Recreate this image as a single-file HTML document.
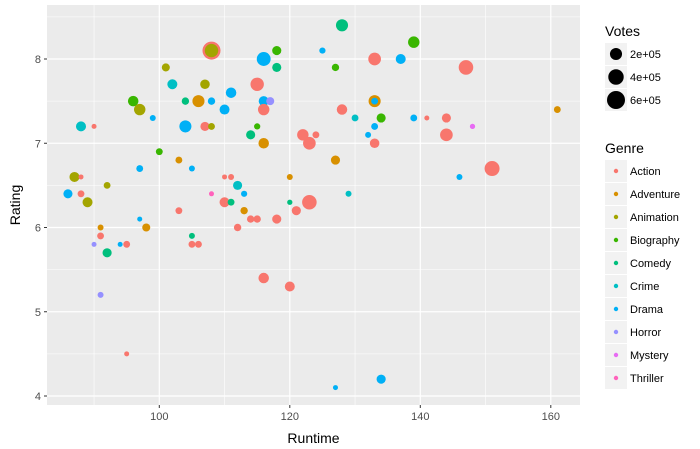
<!DOCTYPE html>
<html><head><meta charset="utf-8"><style>
html,body{margin:0;padding:0;background:#fff;}
svg{display:block;font-family:"Liberation Sans",Arial,sans-serif;}
</style></head><body>
<svg id="chart" width="700" height="449" viewBox="0 0 700 449" xmlns="http://www.w3.org/2000/svg"></svg>
<script>
const genreNames = ["Action","Adventure","Animation","Biography","Comedy","Crime","Drama","Horror","Mystery","Thriller"];
const genreColors = ["#F8766D","#D89000","#A3A500","#39B600","#00BF7D","#00BFC4","#00B0F6","#9590FF","#E76BF3","#FF62BC"];
const runtimes = [108,108,118,116,118,101,102,107,115,111,96,97,104,106,108,110,116,117,116,99,88,90,104,107,108,115,114,122,124,116,123,100,103,97,105,87,88,110,111,120,92,112,86,88,113,108,89,110,111,120,123,103,113,121,97,98,91,91,90,94,95,92,105,105,106,112,114,115,118,116,120,91,95,128,125,139,133,137,127,147,133,133,128,130,134,139,141,144,161,133,148,132,144,133,127,151,146,129,127,134];
const ratings = [8.1,8.1,8.1,8.0,7.9,7.9,7.7,7.7,7.7,7.6,7.5,7.4,7.5,7.5,7.5,7.4,7.5,7.5,7.4,7.3,7.2,7.2,7.2,7.2,7.2,7.2,7.1,7.1,7.1,7.0,7.0,6.9,6.8,6.7,6.7,6.6,6.6,6.6,6.6,6.6,6.5,6.5,6.4,6.4,6.4,6.4,6.3,6.3,6.3,6.3,6.3,6.2,6.2,6.2,6.1,6.0,6.0,5.9,5.8,5.8,5.8,5.7,5.9,5.8,5.8,6.0,6.1,6.1,6.1,5.4,5.3,5.2,4.5,8.4,8.1,8.2,8.0,8.0,7.9,7.9,7.5,7.5,7.4,7.3,7.3,7.3,7.3,7.3,7.4,7.2,7.2,7.1,7.1,7.0,6.8,6.7,6.6,6.4,4.1,4.2];
const votes = [600,270,80,300,80,50,110,95,270,130,130,170,35,200,35,110,110,50,170,12,110,3,200,80,25,15,80,170,25,130,230,25,25,25,12,110,3,3,12,12,25,80,80,25,15,3,110,110,25,5,340,25,35,80,3,50,12,25,3,3,25,80,12,25,25,35,35,35,80,130,110,12,3,200,15,170,230,110,35,340,200,25,130,25,80,25,3,80,25,25,5,12,230,95,80,370,12,12,3,80];
const genres = [0,2,3,6,4,2,5,2,0,6,3,2,4,1,6,6,6,7,0,6,5,0,6,0,2,3,4,0,0,1,0,3,1,6,6,2,0,0,0,1,2,5,6,0,6,9,2,0,4,4,0,0,1,0,6,1,1,0,7,6,0,4,4,0,0,0,0,0,0,0,0,7,0,4,6,3,0,6,3,0,1,6,0,5,3,6,0,0,1,6,8,6,0,0,1,0,6,5,6,6];
const xTicks = [100,120,140,160];
const yTicks = [4,5,6,7,8];
const sizeBreaks = [200,400,600];
const sizeLabels = ["2e+05","4e+05","6e+05"];

const NS="http://www.w3.org/2000/svg";
const svg=document.getElementById('chart');
const PL=47,PR=580,PT=5,PB=405;
function xs(v){return 159.3+(v-100)*6.525;}
function ys(v){return 59+(8-v)*84.25;}
function rs(v){return 2+7*Math.sqrt(v/600);}
function mk(tag,attrs,parent){const e=document.createElementNS(NS,tag);for(const k in attrs)e.setAttribute(k,attrs[k]);(parent||svg).appendChild(e);return e;}

const panel=mk('rect',{x:PL,y:PT,width:PR-PL,height:PB-PT,fill:'#ebebeb'});


const grid=mk('g',{});


for(let i=0;i<yTicks.length;i++){
  const ym=ys(yTicks[i]+0.5);
  if(ym>PT) mk('line',{x1:PL,x2:PR,y1:ym,y2:ym,stroke:'#fff','stroke-width':0.6},grid);
  const y=ys(yTicks[i]);mk('line',{x1:PL,x2:PR,y1:y,y2:y,stroke:'#fff','stroke-width':1.2},grid);
}
{const y=ys(yTicks[0]-0.5); if(y<PB) mk('line',{x1:PL,x2:PR,y1:y,y2:y,stroke:'#fff','stroke-width':0.6},grid);}
for(let i=0;i<xTicks.length;i++){
  const xm=xs(xTicks[i]-10);
  if(xm>PL) mk('line',{x1:xm,x2:xm,y1:PT,y2:PB,stroke:'#fff','stroke-width':0.6},grid);
  const x=xs(xTicks[i]);mk('line',{x1:x,x2:x,y1:PT,y2:PB,stroke:'#fff','stroke-width':1.2},grid);
}
const pts=mk('g',{});


for(let i=0;i<runtimes.length;i++){
  const c=mk('circle',{cx:xs(runtimes[i]),cy:ys(ratings[i]),r:rs(votes[i]),fill:genreColors[genres[i]]},pts);
  
  
}
for(let i=0;i<xTicks.length;i++){
  const x=xs(xTicks[i]);
  mk('line',{x1:x,x2:x,y1:PB,y2:PB+3,stroke:'#333','stroke-width':1});
  const t=mk('text',{x:x,y:PB+15,'text-anchor':'middle','font-size':11,fill:'#4d4d4d'});t.textContent=xTicks[i];
  
  
}
for(let i=0;i<yTicks.length;i++){
  const y=ys(yTicks[i]);
  mk('line',{x1:PL-3,x2:PL,y1:y,y2:y,stroke:'#333','stroke-width':1});
  const t=mk('text',{x:PL-6,y:y+4,'text-anchor':'end','font-size':11,fill:'#4d4d4d'});t.textContent=yTicks[i];
  
  
}
const xt=mk('text',{x:(PL+PR)/2,y:443,'text-anchor':'middle','font-size':14,fill:'#000'});xt.textContent='Runtime';


const yt=mk('text',{x:0,y:0,transform:'translate(20,205) rotate(-90)','text-anchor':'middle','font-size':14,fill:'#000'});yt.textContent='Rating';



const lv=mk('g',{});


const vt=mk('text',{x:605,y:36,'font-size':14,fill:'#000'},lv);vt.textContent='Votes';
for(let i=0;i<sizeBreaks.length;i++){
  const cy=54+i*23;
  mk('rect',{x:605,y:cy-11,width:22,height:22,fill:'#f2f2f2'},lv);
  const c=mk('circle',{cx:616,cy:cy,r:rs(sizeBreaks[i]),fill:'#000'},lv);
  
  
  const t=mk('text',{x:630,y:cy+4,'font-size':11,fill:'#000'},lv);t.textContent=sizeLabels[i];
}
const lg=mk('g',{});


const gt=mk('text',{x:605,y:153,'font-size':14,fill:'#000'},lg);gt.textContent='Genre';
for(let i=0;i<genreNames.length;i++){
  const cy=171+i*23;
  mk('rect',{x:605,y:cy-11,width:22,height:22,fill:'#f2f2f2'},lg);
  mk('circle',{cx:616,cy:cy,r:2.2,fill:genreColors[i]},lg);
  const t=mk('text',{x:630,y:cy+4,'font-size':11,fill:'#000'},lg);t.textContent=genreNames[i];
  
  
}
</script>
</body></html>
